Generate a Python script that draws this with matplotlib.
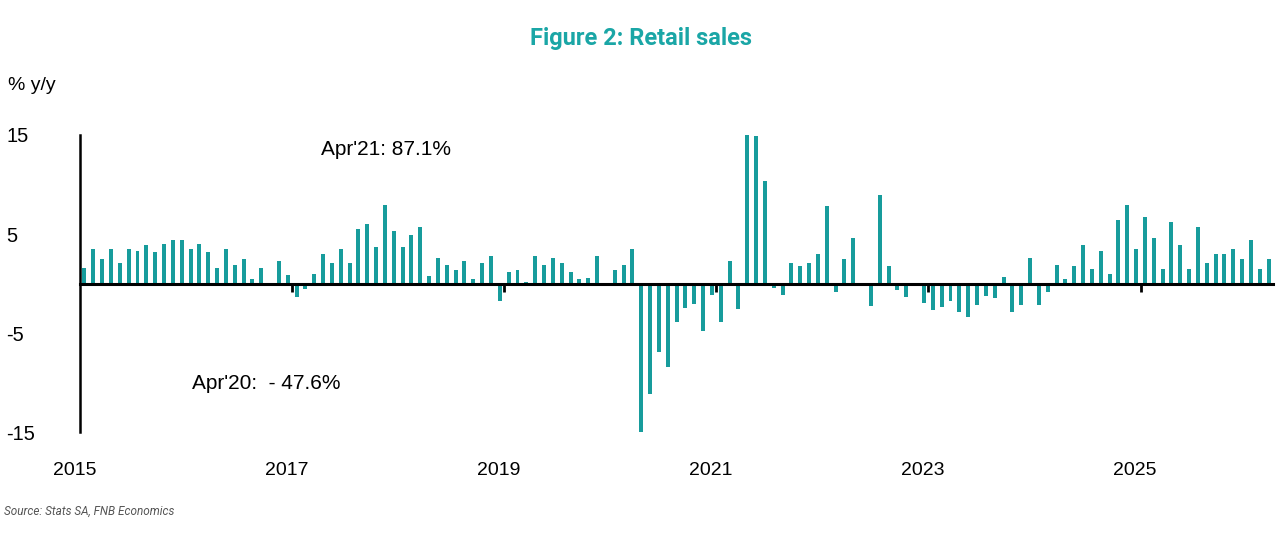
import matplotlib.pyplot as plt
import numpy as np

# monthly retail sales, % y/y, Jan 2015 .. Mar 2026 (Apr'20 and Apr'21 go off the scale)
sales = [
    1.6, 3.5, 2.5, 3.5, 2.1, 3.5, 3.3, 3.9, 3.2, 4.0, 4.4, 4.4,          # 2015
    3.5, 4.0, 3.2, 1.6, 3.5, 1.9, 2.5, 0.5, 1.6, 0.1, 2.3, 0.9,          # 2016
    -1.4, -0.6, 1.0, 3.0, 2.1, 3.5, 2.1, 5.5, 6.0, 3.7, 7.9, 5.3,        # 2017
    3.7, 4.9, 5.7, 0.8, 2.6, 1.9, 1.4, 2.3, 0.5, 2.1, 2.8, -1.8,         # 2018
    1.2, 1.4, 0.2, 2.8, 1.9, 2.6, 2.1, 1.2, 0.5, 0.6, 2.8, -0.2,         # 2019
    1.4, 1.9, 3.5, -47.6, -11.2, -6.9, -8.4, -3.9, -2.5, -2.1, -4.8, -1.2,  # 2020
    -3.9, 2.3, -2.6, 87.1, 14.9, 10.4, -0.5, -1.2, 2.1, 1.8, 2.1, 3.0,   # 2021
    7.8, -0.9, 2.5, 4.6, -0.2, -2.3, 8.9, 1.8, -0.7, -1.4, 0.1, -2.0,    # 2022
    -2.7, -2.4, -1.8, -2.9, -3.4, -2.2, -1.3, -1.5, 0.7, -2.9, -2.2, 2.6,  # 2023
    -2.2, -0.9, 1.9, 0.5, 1.8, 3.9, 1.5, 3.3, 1.0, 6.4, 7.9, 3.5,        # 2024
    6.7, 4.6, 1.5, 6.2, 3.9, 1.5, 5.7, 2.1, 3.0, 3.0, 3.5, 2.5,          # 2025
    4.4, 1.5, 2.5,                                                        # 2026
]
year_labels = ["2015", "2017", "2019", "2021", "2023", "2025"]
y_ticks = [15, 5, -5, -15]

teal = "#179c9c"
plt.rcParams['font.family'] = ['Liberation Sans', 'DejaVu Sans']

fig = plt.figure(figsize=(12.81, 5.45), dpi=100)
ax = fig.add_axes([0.0625, 0.2073, 0.9313, 0.545])

months = np.arange(len(sales))
ax.bar(months, sales, width=0.45, color=teal, zorder=2)

ax.set_xlim(-0.5, len(sales) - 0.5)
ax.set_ylim(-15, 15)

# spines: left axis plus the zero line, year-boundary ticks hang below zero
for s in ["top", "right"]:
    ax.spines[s].set_visible(False)
ax.spines["left"].set_linewidth(1.8)
ax.spines["bottom"].set_position(("data", 0))
ax.spines["bottom"].set_linewidth(2.2)
ax.spines["bottom"].set_zorder(3)

tick_pos = [23.5 + 24 * k for k in range(5)]
ax.set_xticks(tick_pos)
ax.set_xticklabels([])
ax.tick_params(axis="x", direction="out", length=6, width=2, color="black")

ax.set_yticks(y_ticks)
ax.set_yticklabels([str(v) for v in y_ticks], fontsize=14.5)
ax.tick_params(axis="y", length=0, pad=53)
for lab in ax.get_yticklabels():
    lab.set_ha("left")

# year labels under the plot
for k, yr in enumerate(year_labels):
    ax.text(-1.1 + 24 * k, -0.128, yr, transform=ax.get_xaxis_transform(),
            ha="center", va="center", fontsize=14)

# notes for the two off-scale months
ax.text(26.8, 13.5, "Apr'21: 87.1%", fontsize=15, va="center", ha="left")
ax.text(12.2, -10.05, "Apr'20:  - 47.6%", fontsize=15, va="center", ha="left")

fig.text(0.5, 1 - 38 / 545, "Figure 2: Retail sales", ha="center", va="center",
         fontsize=17, fontweight="bold", color="#1aa6a6", family="Roboto")
fig.text(0.006, 1 - 85 / 545, "% y/y", ha="left", va="center", fontsize=14)
fig.text(0.003, 1 - 511 / 545, "Source: Stats SA, FNB Economics", ha="left", va="center",
         fontsize=8.5, style="italic", color="#555555", family="Roboto")

plt.savefig("out.png", dpi=100)
